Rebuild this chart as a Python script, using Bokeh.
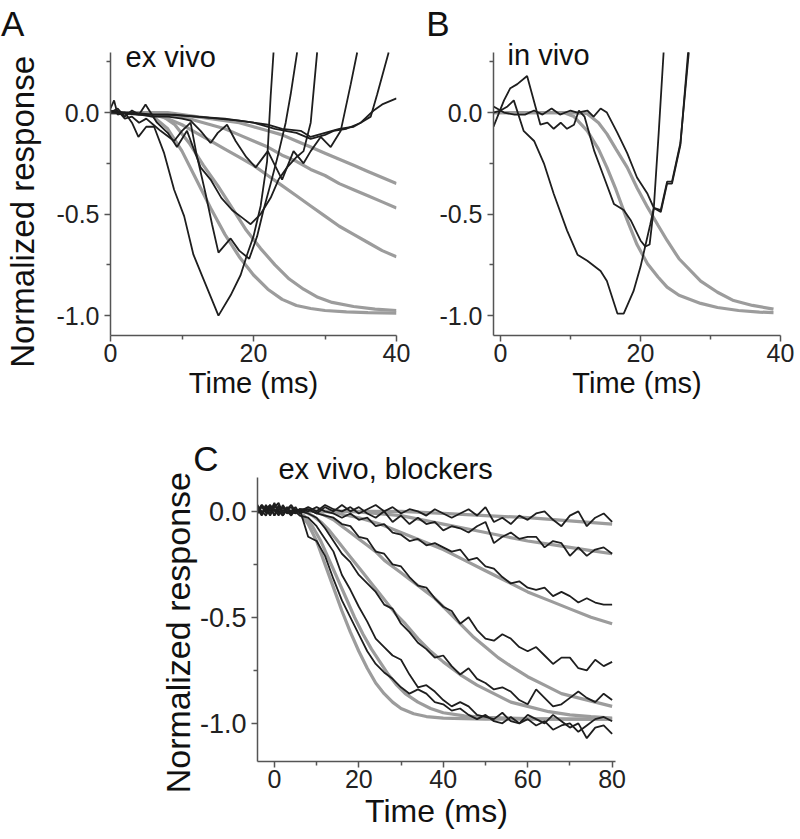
from bokeh.plotting import figure
from bokeh.models import Range1d, FixedTicker, PrintfTickFormatter, Label
from bokeh.layouts import column, row
from bokeh.embed import file_html
from bokeh.resources import INLINE

FONT = "Liberation Sans"
BLACK = "#1e1e1e"
GRAY = "#9c9c9c"

# ---------------- Panel A: ex vivo ----------------
A_t1_x = [0, 0.5, 1, 2, 3, 3.9, 5, 6.1, 7.5, 8.9, 10.3, 11.6, 13, 15.1, 16.8, 18.2, 19.1, 20, 21, 21.9, 22.4, 22.8]
A_t1_y = [0.02, 0.06, -0.01, 0.0, -0.05, -0.12, -0.07, -0.07, -0.2, -0.38, -0.51, -0.7, -0.82, -1.0, -0.9, -0.8, -0.7, -0.61, -0.46, -0.24, 0.08, 0.296]
A_t2_x = [0, 1, 2, 3, 4, 5, 6, 7, 8.9, 10, 11.2, 12, 13.3, 14.2, 15.1, 16.8, 18, 19.4, 20.5, 21.4, 22.4, 23.5, 24.5, 25.2, 26.1]
A_t2_y = [0.0, 0.01, -0.03, -0.02, -0.05, -0.03, -0.06, -0.09, -0.14, -0.09, -0.05, -0.2, -0.4, -0.55, -0.69, -0.62, -0.68, -0.72, -0.61, -0.48, -0.35, -0.2, -0.05, 0.09, 0.296]
A_t3_x = [0, 1, 2, 3, 4, 4.9, 6.5, 8, 9.3, 10.7, 12.6, 14, 15.5, 17, 18.5, 19.6, 21, 22.4, 23.5, 24.7, 26, 27, 28, 28.9]
A_t3_y = [0.0, 0.02, -0.02, 0.01, -0.01, 0.04, -0.05, -0.1, -0.17, -0.09, -0.27, -0.33, -0.42, -0.48, -0.52, -0.55, -0.5, -0.42, -0.33, -0.27, -0.22, -0.19, -0.05, 0.296]
A_t4_x = [0, 2, 4, 6, 8, 10, 11.2, 12.6, 14, 15, 16.3, 17.5, 19, 20.3, 22, 23, 24, 25.6, 27, 28, 29.4, 30.8, 32.2, 33.6, 34.5]
A_t4_y = [0.01, 0.0, -0.01, -0.02, -0.02, -0.03, -0.04, -0.09, -0.15, -0.1, -0.06, -0.14, -0.22, -0.27, -0.19, -0.26, -0.33, -0.19, -0.25, -0.19, -0.12, -0.17, -0.09, 0.14, 0.296]
A_t5_x = [0, 3, 6, 9, 12, 15, 18, 20, 22, 24, 26.6, 28, 30, 32, 34, 35, 36.4, 37.3, 38.9]
A_t5_y = [0.0, 0.0, -0.01, -0.01, -0.02, -0.03, -0.04, -0.05, -0.06, -0.08, -0.09, -0.12, -0.1, -0.08, -0.07, -0.05, -0.02, 0.09, 0.296]
A_t6_x = [0, 4, 8, 12, 16, 20, 23, 26, 28, 30, 31.2, 33, 35, 36.8, 38, 40]
A_t6_y = [0.0, -0.01, -0.01, -0.02, -0.03, -0.05, -0.08, -0.1, -0.13, -0.11, -0.09, -0.08, -0.05, 0.01, 0.04, 0.07]

A_g1_x = [0, 4, 6, 8, 10, 12, 14, 16, 18, 20, 22, 24, 26, 28, 30, 33, 36, 40]
A_g1_y = [0, 0, -0.02, -0.08, -0.19, -0.33, -0.47, -0.6, -0.71, -0.8, -0.87, -0.92, -0.95, -0.965, -0.975, -0.982, -0.985, -0.988]
A_g2_x = [0, 5, 7, 9, 11, 13, 15, 17, 19, 21, 23, 25, 27, 29, 31, 34, 37, 40]
A_g2_y = [0, 0, -0.01, -0.06, -0.15, -0.26, -0.36, -0.47, -0.58, -0.67, -0.75, -0.82, -0.87, -0.91, -0.935, -0.955, -0.968, -0.975]
A_g3_x = [0, 6, 8, 10, 12, 14, 16, 18, 20, 22, 24, 26, 28, 30, 32, 34, 36, 38, 40]
A_g3_y = [0, -0.01, -0.03, -0.06, -0.1, -0.14, -0.18, -0.22, -0.26, -0.31, -0.36, -0.41, -0.46, -0.51, -0.56, -0.6, -0.64, -0.68, -0.71]
A_g4_x = [0, 8, 10, 12, 14, 16, 18, 20, 22, 24, 26, 28, 30, 32, 34, 36, 38, 40]
A_g4_y = [0, -0.01, -0.02, -0.04, -0.06, -0.08, -0.11, -0.14, -0.17, -0.21, -0.24, -0.28, -0.31, -0.35, -0.38, -0.41, -0.44, -0.47]
A_g5_x = [0, 8, 10, 14, 18, 20, 22, 24, 26, 28, 30, 32, 34, 36, 38, 40]
A_g5_y = [0, 0, -0.01, -0.03, -0.05, -0.07, -0.09, -0.11, -0.14, -0.17, -0.2, -0.23, -0.26, -0.29, -0.32, -0.35]

# ---------------- Panel B: in vivo ----------------
B_t1_x = [-1, 0, 1, 1.9, 3.3, 4.8, 6.2, 7.6, 9.5, 11, 12.4, 14.3, 15.2, 16.7, 17.6, 19, 20, 21.4, 21.9, 22.6, 23.3]
B_t1_y = [0.0, 0.01, 0.03, 0.06, -0.09, -0.14, -0.25, -0.4, -0.58, -0.7, -0.73, -0.78, -0.83, -0.99, -0.99, -0.88, -0.76, -0.55, -0.47, -0.1, 0.296]
B_t2_x = [-1, 0.5, 1.4, 2.4, 3.8, 5.7, 6.7, 7.6, 8.6, 9.5, 10.5, 11.2, 12, 13.4, 14.8, 16.2, 17.6, 18.6, 20, 20.7, 21.3, 21.9, 22.9, 23.8, 24.5, 25.7, 26.9]
B_t2_y = [-0.07, 0.06, 0.12, 0.14, 0.18, -0.06, -0.05, -0.08, -0.05, -0.08, -0.06, 0.01, -0.02, -0.19, -0.32, -0.45, -0.48, -0.53, -0.63, -0.66, -0.65, -0.47, -0.48, -0.34, -0.34, -0.15, 0.296]
B_t3_x = [-1, 0.5, 2, 3.5, 4.8, 6, 7.3, 8.5, 10, 11, 12.4, 13.3, 14.3, 15.2, 16.7, 18.1, 19.5, 21, 21.9, 22.9, 23.8, 24.5, 25.7, 26.8]
B_t3_y = [0.03, 0.0, -0.01, -0.01, 0.01, -0.01, 0.02, -0.01, 0.01, 0.0, 0.01, -0.02, 0.02, 0.0, -0.1, -0.2, -0.32, -0.4, -0.47, -0.49, -0.35, -0.35, -0.16, 0.296]

B_g1_x = [-1, 9, 10.5, 12.4, 14, 15.2, 16.5, 18.1, 19.5, 21, 22.5, 23.8, 25.5, 28.6, 31, 34, 37, 39]
B_g1_y = [0, 0, -0.02, -0.09, -0.18, -0.27, -0.38, -0.53, -0.65, -0.745, -0.81, -0.86, -0.9, -0.94, -0.96, -0.975, -0.983, -0.985]
B_g2_x = [-1, 10, 12.4, 14, 15.2, 16.5, 18.1, 19.5, 21, 22.5, 23.8, 25.5, 28.6, 31, 33.3, 36, 39]
B_g2_y = [0, 0, -0.006, -0.05, -0.105, -0.18, -0.27, -0.37, -0.466, -0.555, -0.63, -0.72, -0.83, -0.885, -0.926, -0.95, -0.968]

# ---------------- Panel C: ex vivo, blockers ----------------
C_x = [-4, -3, -2, -1, 0, 1, 2, 3, 4, 5, 6, 8, 10, 12, 14, 16, 18, 20, 22, 24, 26, 28, 30, 32, 34, 36, 38, 40,
       42, 44, 46, 48, 50, 52, 54, 56, 58, 60, 62, 64, 66, 68, 70, 72, 74, 76, 78, 80]
C_t1_y = [0.02, -0.01, 0.03, 0.0, 0.04, -0.01, 0.02, 0.0, -0.02, 0.01, 0.0,
          0.02, 0.0, 0.03, 0.01, 0.0, 0.02, -0.01, 0.01, 0.03, 0.0, 0.02, -0.01, 0.01, 0.0, -0.02, 0.01, -0.01,
          -0.03, -0.01, 0.01, -0.02, 0.02, -0.05, -0.03, -0.06, -0.02, -0.04, -0.01, 0.0, -0.04, -0.07, -0.02, 0.0,
          -0.07, -0.03, -0.01, -0.05]
C_t2_y = [0.0, 0.03, -0.01, 0.02, -0.02, 0.03, 0.0, 0.02, -0.01, 0.0, 0.01,
          0.01, -0.01, 0.02, 0.0, 0.03, 0.0, 0.02, -0.01, -0.03, 0.0, -0.05, -0.02, -0.06, -0.03, -0.06, -0.05, -0.09,
          -0.07, -0.08, -0.1, -0.07, -0.05, -0.15, -0.12, -0.1, -0.13, -0.12, -0.12, -0.17, -0.14, -0.15, -0.21, -0.17,
          -0.21, -0.18, -0.17, -0.2]
C_t3_y = [0.01, -0.02, 0.02, -0.01, 0.03, 0.0, -0.02, 0.01, 0.02, -0.01, 0.01,
          0.0, 0.02, 0.0, -0.01, -0.03, -0.01, -0.04, -0.03, -0.07, -0.06, -0.1, -0.11, -0.14, -0.13, -0.16, -0.15, -0.17,
          -0.19, -0.18, -0.23, -0.22, -0.26, -0.27, -0.31, -0.34, -0.33, -0.36, -0.37, -0.36, -0.4, -0.38, -0.4, -0.43,
          -0.41, -0.43, -0.44, -0.44]
C_t4_y = [-0.01, 0.02, 0.0, 0.03, -0.02, 0.01, 0.02, -0.01, 0.0, 0.02, -0.01,
          0.01, -0.01, -0.02, -0.03, -0.06, -0.07, -0.12, -0.13, -0.19, -0.2, -0.25, -0.26, -0.31, -0.35, -0.36, -0.41, -0.45,
          -0.47, -0.53, -0.5, -0.56, -0.6, -0.61, -0.58, -0.6, -0.64, -0.66, -0.64, -0.68, -0.72, -0.69, -0.69, -0.74,
          -0.75, -0.7, -0.73, -0.71]
C_t5_y = [0.02, 0.0, -0.02, 0.02, 0.01, -0.02, 0.03, 0.0, -0.01, 0.01, 0.0,
          -0.01, -0.03, -0.08, -0.14, -0.2, -0.24, -0.3, -0.34, -0.38, -0.44, -0.46, -0.53, -0.57, -0.62, -0.65, -0.69, -0.68,
          -0.73, -0.77, -0.74, -0.79, -0.81, -0.84, -0.83, -0.85, -0.89, -0.91, -0.84, -0.88, -0.92, -0.91, -0.88, -0.85,
          -0.88, -0.9, -0.86, -0.89]
C_t6_y = [0.0, 0.03, 0.01, -0.02, 0.02, 0.04, -0.01, 0.01, 0.03, 0.0, -0.02,
          -0.03, -0.07, -0.13, -0.19, -0.3, -0.37, -0.45, -0.52, -0.6, -0.64, -0.68, -0.7, -0.77, -0.83, -0.82, -0.85, -0.89,
          -0.92, -0.9, -0.92, -0.96, -0.97, -0.98, -0.95, -0.99, -1.0, -0.96, -0.98, -1.0, -0.96, -0.99, -1.02, -1.0,
          -1.07, -1.02, -1.01, -1.05]
C_t7_y = [0.03, -0.01, 0.01, 0.03, 0.0, 0.02, -0.02, 0.01, 0.0, -0.01, 0.01,
          -0.12, -0.14, -0.21, -0.32, -0.42, -0.5, -0.58, -0.66, -0.72, -0.76, -0.79, -0.83, -0.86, -0.84, -0.86, -0.9, -0.91,
          -0.94, -0.93, -0.96, -0.98, -0.96, -0.99, -1.0, -0.97, -1.0, -0.98, -1.01, -0.99, -1.03, -1.01, -1.0, -1.04,
          -1.01, -0.98, -0.97, -0.99]

C_g7_x = [0, 4, 6, 8, 10, 12, 14, 16, 18, 20, 22, 24, 26, 28, 30, 33, 36, 40, 50, 60, 70, 80]
C_g7_y = [0, 0, -0.01, -0.06, -0.14, -0.25, -0.36, -0.47, -0.57, -0.66, -0.74, -0.81, -0.86, -0.9, -0.93, -0.955, -0.968, -0.975, -0.98, -0.98, -0.98, -0.98]
C_g6_x = [0, 5, 7, 9, 11, 13, 15, 17, 19, 21, 23, 25, 27, 29, 31, 34, 37, 40, 45, 50, 60, 70, 80]
C_g6_y = [0, 0, -0.02, -0.07, -0.14, -0.23, -0.32, -0.41, -0.5, -0.58, -0.65, -0.71, -0.77, -0.82, -0.86, -0.9, -0.93, -0.95, -0.965, -0.972, -0.978, -0.98, -0.98]
C_g5_x = [0, 7, 9, 11, 13, 15, 17, 19, 21, 23, 25, 27, 29, 31, 34, 37, 40, 44, 48, 52, 56, 60, 65, 70, 75, 80]
C_g5_y = [0, 0, -0.02, -0.05, -0.09, -0.14, -0.19, -0.24, -0.29, -0.34, -0.39, -0.44, -0.49, -0.53, -0.6, -0.66, -0.71, -0.77, -0.82, -0.86, -0.9, -0.92, -0.945, -0.96, -0.968, -0.975]
C_g4_x = [0, 10, 12, 14, 16, 18, 20, 22, 24, 26, 28, 30, 32, 34, 36, 38, 41, 44, 47, 50, 53, 56, 60, 64, 68, 72, 76, 80]
C_g4_y = [0, 0, -0.02, -0.04, -0.07, -0.1, -0.13, -0.16, -0.19, -0.23, -0.26, -0.29, -0.32, -0.35, -0.38, -0.41, -0.47, -0.53, -0.59, -0.64, -0.69, -0.73, -0.78, -0.82, -0.86, -0.88, -0.9, -0.92]
C_g3_x = [0, 12, 15, 20, 25, 30, 35, 40, 45, 50, 55, 60, 65, 70, 75, 80]
C_g3_y = [0, 0, -0.01, -0.03, -0.06, -0.1, -0.14, -0.18, -0.23, -0.28, -0.33, -0.38, -0.42, -0.46, -0.5, -0.53]
C_g2_x = [0, 18, 24, 30, 35, 40, 45, 50, 55, 60, 65, 70, 75, 80]
C_g2_y = [0, 0, -0.01, -0.02, -0.04, -0.06, -0.08, -0.1, -0.12, -0.14, -0.155, -0.17, -0.185, -0.2]
C_g1_x = [0, 30, 40, 50, 60, 70, 80]
C_g1_y = [0, 0, -0.01, -0.02, -0.03, -0.045, -0.06]

Y_TICKS = [-1.0, -0.5, 0.0]
Y_MINOR_AB = [-0.75, -0.25, 0.25]
Y_MINOR_C = [-0.75, -0.25]
X_TICKS_AB = [0, 20, 40]
X_MINOR_AB = [10, 30]
X_TICKS_C = [0, 20, 40, 60, 80]
X_MINOR_C = [10, 30, 50, 70]

NBSP = "\u00a0"


def make_panel(xr, yr, ybounds, fw, fh, bl, br, bt, bb, xt, xm, yt, ym,
               xtick_px, ytick_px, xlab_px, ylab_px, ylabel, ylab_standoff):
    p = figure(x_range=Range1d(*xr), y_range=Range1d(*yr),
               frame_width=fw, frame_height=fh,
               min_border_left=bl, min_border_right=br, min_border_top=bt, min_border_bottom=bb,
               output_backend="svg", toolbar_location=None)
    p.outline_line_color = None
    p.grid.visible = False
    p.background_fill_color = "white"
    p.xaxis.ticker = FixedTicker(ticks=xt, minor_ticks=xm)
    p.yaxis.ticker = FixedTicker(ticks=yt, minor_ticks=ym)
    p.yaxis.formatter = PrintfTickFormatter(format="%.1f")
    p.yaxis.bounds = ybounds
    for ax in (p.xaxis, p.yaxis):
        ax.axis_line_color = "#555555"
        ax.axis_line_width = 1.5
        ax.major_tick_line_color = "#555555"
        ax.major_tick_line_width = 1.5
        ax.minor_tick_line_color = "#555555"
        ax.minor_tick_line_width = 1.5
        ax.major_tick_in = 0
        ax.major_tick_out = 6
        ax.minor_tick_in = 0
        ax.minor_tick_out = 4
        ax.major_label_text_font = FONT
        ax.major_label_text_color = "#222222"
        ax.axis_label_text_font = FONT
        ax.axis_label_text_font_style = "normal"
        ax.axis_label_text_color = "#111111"
    p.xaxis.major_label_text_font_size = xtick_px
    p.yaxis.major_label_text_font_size = ytick_px
    p.xaxis.axis_label_text_font_size = xlab_px
    p.yaxis.axis_label_text_font_size = ylab_px
    p.xaxis.major_label_standoff = 2
    p.yaxis.major_label_standoff = 5
    p.xaxis.axis_label = "Time (ms)"
    p.xaxis.axis_label_standoff = 2
    if ylabel:
        p.yaxis.axis_label = ylabel
        p.yaxis.axis_label_standoff = ylab_standoff
    return p


def add_lines(p, grays, blacks):
    for gx, gy in grays:
        p.line(gx, gy, line_color=GRAY, line_width=3.2)
    for bx, by in blacks:
        p.line(bx, by, line_color=BLACK, line_width=1.8)


def txt(x, y, s, size):
    return Label(x=x, y=y, text=s, text_font=FONT, text_font_size=size,
                 text_color="#111111", text_baseline="alphabetic", text_align="left")


# panels A and B: frame top at 42 px, the y axis itself stops at 0.296
pA = make_panel((0, 40), (-1.098, 0.345), (-1.098, 0.296), 286, 293, 110, 24, 42, 72,
                X_TICKS_AB, X_MINOR_AB, Y_TICKS, Y_MINOR_AB, "25px", "25px", "29px", "33px",
                "Normalized response" + NBSP * 5, 12)
add_lines(pA,
          [(A_g1_x, A_g1_y), (A_g2_x, A_g2_y), (A_g3_x, A_g3_y), (A_g4_x, A_g4_y), (A_g5_x, A_g5_y)],
          [(A_t1_x, A_t1_y), (A_t2_x, A_t2_y), (A_t3_x, A_t3_y), (A_t4_x, A_t4_y), (A_t5_x, A_t5_y), (A_t6_x, A_t6_y)])
pA.add_layout(txt(-15.3, 0.437, "A", "35px"), "above")
pA.add_layout(txt(2.1, 0.276, "ex vivo", "29px"))

pB = make_panel((-1, 40), (-1.098, 0.345), (-1.098, 0.296), 287, 293, 73, 16, 42, 72,
                X_TICKS_AB, X_MINOR_AB, Y_TICKS, Y_MINOR_AB, "25px", "25px", "29px", "33px", None, 0)
add_lines(pB,
          [(B_g1_x, B_g1_y), (B_g2_x, B_g2_y)],
          [(B_t1_x, B_t1_y), (B_t2_x, B_t2_y), (B_t3_x, B_t3_y)])
pB.add_layout(txt(-10.6, 0.437, "B", "35px"), "above")
pB.add_layout(txt(1.0, 0.281, "in vivo", "29px"))

pC = make_panel((-4, 80.8), (-1.18, 0.2587), (-1.18, 0.16), 358, 305, 257, 181, 49, 76,
                X_TICKS_C, X_MINOR_C, Y_TICKS, Y_MINOR_C, "25px", "27px", "32px", "34px",
                "Normalized response" + NBSP * 5, 0)
add_lines(pC,
          [(C_g1_x, C_g1_y), (C_g2_x, C_g2_y), (C_g3_x, C_g3_y), (C_g4_x, C_g4_y),
           (C_g5_x, C_g5_y), (C_g6_x, C_g6_y), (C_g7_x, C_g7_y)],
          [(C_x, C_t1_y), (C_x, C_t2_y), (C_x, C_t3_y), (C_x, C_t4_y),
           (C_x, C_t5_y), (C_x, C_t6_y), (C_x, C_t7_y)])
pC.add_layout(txt(-19.2, 0.25, "C", "35px"), "left")
pC.add_layout(txt(0.95, 0.201, "ex vivo, blockers", "29px"))

layout = column(row(pA, pB), pC)
open("out.html", "w").write(file_html(layout, INLINE))
